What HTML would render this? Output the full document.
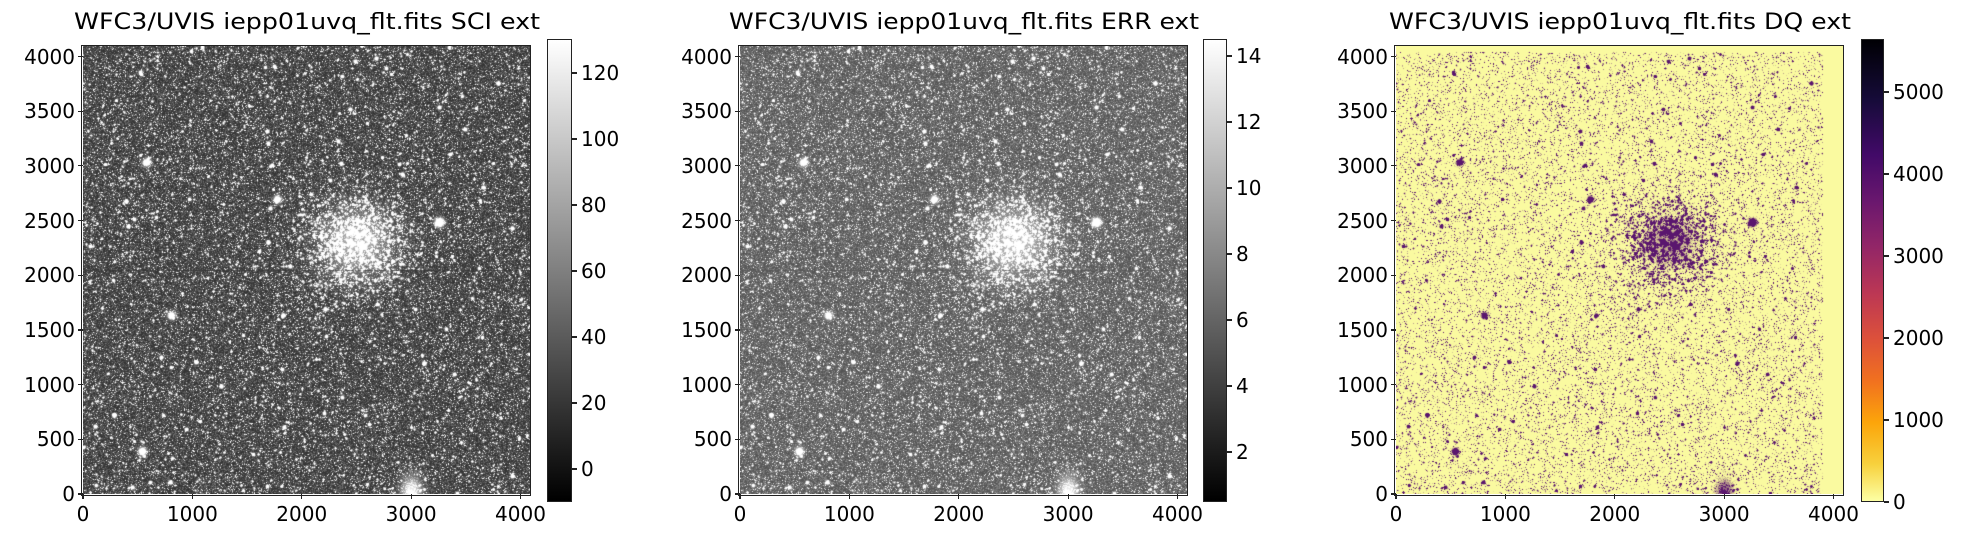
<!DOCTYPE html>
<html><head><meta charset="utf-8"><style>
body{margin:0;background:#fff;width:1966px;height:545px;overflow:hidden;position:relative;font-family:"DejaVu Sans","Liberation Sans",sans-serif;color:#000}
canvas{position:absolute;top:46px;width:448px;height:448px}
.frame{position:absolute;top:45px;width:448px;height:449px;border:1.3px solid #222;box-sizing:content-box;margin-left:-1px}
.cb{position:absolute;top:39px;height:463px;border:1.3px solid #222;box-sizing:border-box}
.t{position:absolute;font-size:20px;line-height:22px;white-space:nowrap}
.tk{position:absolute;background:#222}
.title{position:absolute;top:10px;font-size:22px;line-height:26px;white-space:nowrap;transform-origin:0 0}
</style></head><body>
<canvas id="c1" width="448" height="448" style="left:83px"></canvas>
<canvas id="c2" width="448" height="448" style="left:740px"></canvas>
<canvas id="c3" width="448" height="448" style="left:1396px"></canvas>
<div class="frame" style="left:82px"></div>
<div class="frame" style="left:739px"></div>
<div class="frame" style="left:1395px"></div>
<span class="title" data-c="307" data-w="466">WFC3/UVIS iepp01uvq_flt.fits SCI ext</span>
<span class="title" data-c="964" data-w="470">WFC3/UVIS iepp01uvq_flt.fits ERR ext</span>
<span class="title" data-c="1620" data-w="462">WFC3/UVIS iepp01uvq_flt.fits DQ ext</span>
<div class="cb" style="left:547px;width:25px;background:linear-gradient(to top,#000,#fff)"></div>
<div class="cb" style="left:1203px;width:24px;background:linear-gradient(to top,#000,#fff)"></div>
<div class="cb" style="left:1861px;width:23px;background:linear-gradient(to top,#fcffa4 0%,#f7d13d 8%,#fca50a 17%,#f1711f 26%,#dd513a 35%,#bc3754 45%,#932667 55%,#6a176e 65%,#420a68 75%,#160b39 87%,#000004 100%)"></div>
<div id="ticks"></div>
<script>
document.querySelectorAll('.title').forEach(function(e){var w=e.getBoundingClientRect().width,tw=+e.getAttribute('data-w'),sc=tw/w;e.style.transform='scaleX('+sc+')';e.style.left=(+e.getAttribute('data-c')-tw/2)+'px';});
var T=document.getElementById('ticks'),h='';
function tk(x,y,w,hh){h+='<div class="tk" style="left:'+x+'px;top:'+y+'px;width:'+w+'px;height:'+hh+'px"></div>';}
function lb(x,y,s,al){var st=al=='r'?'right:'+(1966-x)+'px':(al=='c'?'left:'+(x-50)+'px;width:100px;text-align:center':'left:'+x+'px');h+='<div class="t" style="'+st+';top:'+(y-11)+'px">'+s+'</div>';}
[83,740,1396].forEach(function(L){
 for(var k=0;k<=4;k++){var x=L+k*109.375;tk(x-0.6,494,1.2,5);lb(x,514,k*1000,'c');}
 for(var k=0;k<=8;k++){var y=494-k*54.6875;tk(L-5,y-0.6,5,1.2);lb(L-8,y,k*500,'r');}
});
function cbt(L,W,vals,pos){for(var i=0;i<vals.length;i++){tk(L+W,pos[i]-0.6,5,1.2);lb(L+W+9,pos[i],vals[i],'l');}}
cbt(547,25,['0','20','40','60','80','100','120'],[469,403,337,271,205,139,73]);
cbt(1203,24,['2','4','6','8','10','12','14'],[452,386,320,254,188,122,56]);
cbt(1861,23,['0','1000','2000','3000','4000','5000'],[502,420,338,256,174,92]);
T.innerHTML=h;
var s=12345;function R(){s|=0;s=s+0x6D2B79F5|0;var t=Math.imul(s^s>>>15,1|s);t=t+Math.imul(t^t>>>7,61|t)^t;return((t^t>>>14)>>>0)/4294967296;}
var N=448,F=new Float32Array(N*N);
var cx=273,cy=196;
for(var i=0;i<N*N;i++){var r=R();F[i]=r*r*0.3;if(R()<0.1)F[i]+=0.3+R()*0.6;}
function star(x,y,a,sg){var r=Math.ceil(sg*3);for(var j=-r;j<=r;j++)for(var i=-r;i<=r;i++){var X=Math.round(x)+i,Y=Math.round(y)+j;if(X<0||Y<0||X>=N||Y>=N)continue;F[Y*N+X]+=a*Math.exp(-(i*i+j*j)/(2*sg*sg));}}
function g(){return (R()+R()+R()+R()-2)*1.7;}
for(var k=0;k<2600;k++)star(R()*N,R()*N,0.8+R()*1.2,0.4+R()*0.35);
for(var k=0;k<140;k++)star(R()*N,R()*N,1.5+R()*2,0.7+R()*0.5);
for(var k=0;k<1200;k++)star(cx+g()*30,cy+g()*28,0.5+R()*1.2,0.4+R()*0.4);
for(var y=0;y<N;y++)for(var x=0;x<N;x++){var dx=x-cx,dy=y-cy;F[y*N+x]+=0.5*Math.exp(-(dx*dx+dy*dy)/(2*24*24));var ex=x-328,ey=y-448;F[y*N+x]+=0.9*Math.exp(-(ex*ex/(2*7*7)+ey*ey/(2*12*12)));}
[[356,176,5],[59,405,3],[88,269,2.5],[194,153,2.5],[63,116,2.5]].forEach(function(p){star(p[0],p[1],p[2],1.5);star(p[0],p[1],p[2]*0.3,3);});
function draw(id,fn){var c=document.getElementById(id).getContext('2d'),im=c.createImageData(N,N),d=im.data;for(var y=0;y<N;y++)for(var x=0;x<N;x++){var v=F[y*N+x];if(y==224)v*=0.4;var o=fn(v,x,y),p=(y*N+x)*4;d[p]=o[0];d[p+1]=o[1];d[p+2]=o[2];d[p+3]=255;}c.putImageData(im,0,0);}
draw('c1',function(v){var g=Math.min(255,(0.2+v*0.9)*255);return[g,g,g];});
draw('c2',function(v){var g=Math.min(255,(0.33+v*0.75)*255);return[g,g,g];});
draw('c3',function(v,x,y){if(x>426||y<6)return[250,250,160];if(v>0.85)return[90,22,110];var a=v>0.3?Math.min(0.7,(v-0.3)*1.3):0;return[250-a*160,250-a*228,160-a*50];});
</script>
</body></html>
